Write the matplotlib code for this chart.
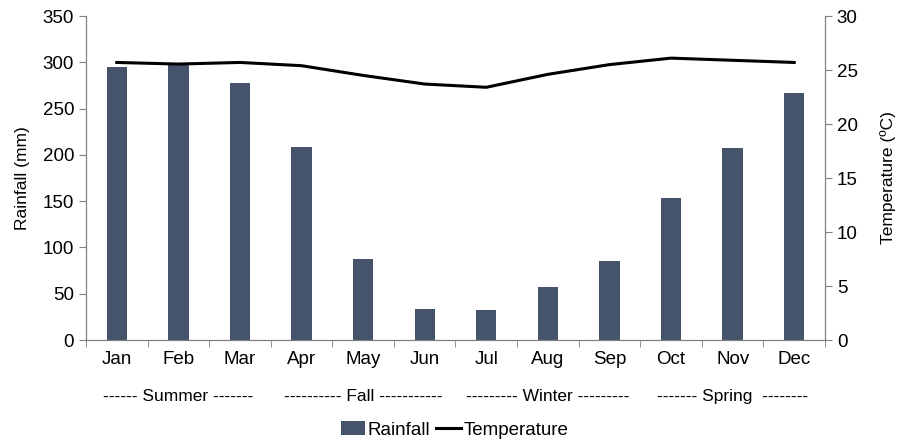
import matplotlib.pyplot as plt
from matplotlib.patches import Patch
from matplotlib.lines import Line2D
import matplotlib.transforms as mtransforms

plt.rcParams['font.family'] = ['Liberation Sans', 'DejaVu Sans']
plt.rcParams['font.size'] = 13.5

months = ["Jan", "Feb", "Mar", "Apr", "May", "Jun", "Jul", "Aug", "Sep", "Oct", "Nov", "Dec"]
rainfall = [295, 298, 278, 208, 88, 33, 32, 57, 85, 153, 207, 267]
temperature = [25.7, 25.55, 25.7, 25.4, 24.5, 23.7, 23.4, 24.6, 25.5, 26.1, 25.9, 25.7]
seasons = ["------ Summer -------", "---------- Fall -----------",
           "--------- Winter ---------", "------- Spring  --------"]
season_centers = [1, 4, 7, 10]

bar_color = "#46546b"
axis_color = "#7f7f7f"

fig = plt.figure(figsize=(9.09, 4.41), dpi=100)
ax = fig.add_axes([0.0946, 0.229, 0.813, 0.7347])
x = list(range(len(months)))
ax.bar(x, rainfall, width=0.33, color=bar_color, zorder=2)
ax.set_xlim(-0.5, 11.5)
ax.set_ylim(0, 350)
ax.set_yticks(range(0, 351, 50))
ax.set_ylabel("Rainfall (mm)", fontsize=12.5, labelpad=9)

ax.set_xticks(x)
ax.set_xticklabels(months)
ax.tick_params(axis='x', which='major', length=0, pad=8)
ax.set_xticks([i - 0.5 for i in range(13)], minor=True)
ax.tick_params(axis='x', which='minor', length=5, color=axis_color, direction='out')
ax.tick_params(axis='y', length=5, color=axis_color)

ax2 = ax.twinx()
ax2.plot(x, temperature, color="black", linewidth=2.2, zorder=3)
ax2.set_ylim(0, 30)
ax2.set_yticks(range(0, 31, 5))
ax2.set_ylabel("Temperature (ºC)", fontsize=12.5, labelpad=16)
ax2.tick_params(axis='y', length=5, color=axis_color)

for a in (ax, ax2):
    a.spines['top'].set_visible(False)
    for s in ('left', 'right', 'bottom'):
        a.spines[s].set_color(axis_color)

trans = mtransforms.blended_transform_factory(ax.transData, fig.transFigure)
for c, s in zip(season_centers, seasons):
    ax.text(c, 0.10, s, transform=trans, ha='center', va='center', fontsize=12.5)

handles = [Patch(facecolor=bar_color, label="Rainfall"),
           Line2D([0], [0], color="black", linewidth=2.2, label="Temperature")]
fig.legend(handles=handles, loc='center', bbox_to_anchor=(0.5, 0.025), ncol=2,
           frameon=False, handlelength=1.3, handletextpad=0.15, columnspacing=0.3,
           borderaxespad=0)

fig.savefig("out.png", dpi=100)
